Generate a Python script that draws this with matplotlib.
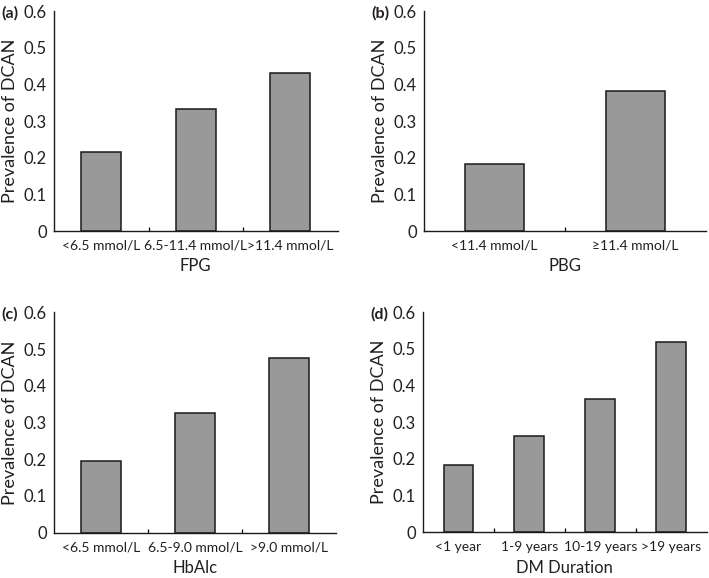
import matplotlib.pyplot as plt
from matplotlib.ticker import FixedLocator
import numpy as np

plt.rcParams["font.family"] = ["Lato", "DejaVu Sans"]

fpg_labels = ["<6.5 mmol/L", "6.5-11.4 mmol/L", ">11.4 mmol/L"]
fpg_values = [0.215, 0.333, 0.431]

pbg_labels = ["<11.4 mmol/L", "≥11.4 mmol/L"]
pbg_values = [0.182, 0.382]

hba1c_labels = ["<6.5 mmol/L", "6.5-9.0 mmol/L", ">9.0 mmol/L"]
hba1c_values = [0.195, 0.327, 0.476]

dur_labels = ["<1 year", "1-9 years", "10-19 years", ">19 years"]
dur_values = [0.184, 0.263, 0.364, 0.518]

TXT = "#231f20"
W, H = 709, 578


def panel(fig, rect, labels, values, xlabel, tag):
    ax = fig.add_axes(rect)
    x = np.arange(len(values))
    ax.bar(x, values, width=0.42, color="#999999", edgecolor="#1a1a1a", linewidth=1.1)
    ax.set_xlim(-0.5, len(values) - 0.5)
    ax.set_ylim(0, 0.6)
    ax.set_yticks([0, 0.1, 0.2, 0.3, 0.4, 0.5, 0.6])
    ax.set_yticklabels(["0", "0.1", "0.2", "0.3", "0.4", "0.5", "0.6"])
    ax.set_xticks(x)
    ax.set_xticklabels(labels)
    ax.xaxis.set_minor_locator(FixedLocator(x[:-1] + 0.5))
    ax.tick_params(axis="x", which="major", length=0, pad=6, labelsize=10, colors=TXT)
    ax.tick_params(axis="x", which="minor", direction="in", length=3, width=0.9)
    ax.tick_params(axis="y", direction="in", length=0, pad=5, labelsize=12, colors=TXT)
    for s in ["top", "right"]:
        ax.spines[s].set_visible(False)
    for s in ["left", "bottom"]:
        ax.spines[s].set_linewidth(1.0)
        ax.spines[s].set_color("#1a1a1a")
    ax.set_xlabel(xlabel, fontsize=12, color=TXT, labelpad=5)
    ax.set_ylabel("Prevalence of DCAN", fontsize=13, color=TXT, labelpad=4)
    fig.text(rect[0] - 53 / W, rect[1] + rect[3] - 2 / H, tag, fontsize=11.5, fontweight="bold",
             color=TXT, ha="left", va="center")
    return ax


fig = plt.figure(figsize=(7.09, 5.78), dpi=100)
panel(fig, [54 / W, 0.6003, 0.400, 0.380], fpg_labels, fpg_values, "FPG", "(a)")
panel(fig, [424 / W, 0.6003, 0.398, 0.380], pbg_labels, pbg_values, "PBG", "(b)")
panel(fig, [54 / W, 0.0784, 0.398, 0.381], hba1c_labels, hba1c_values, "HbAlc", "(c)")
panel(fig, [423 / W, 0.0790, 0.400, 0.381], dur_labels, dur_values, "DM Duration", "(d)")

fig.savefig("out.png", dpi=100)
